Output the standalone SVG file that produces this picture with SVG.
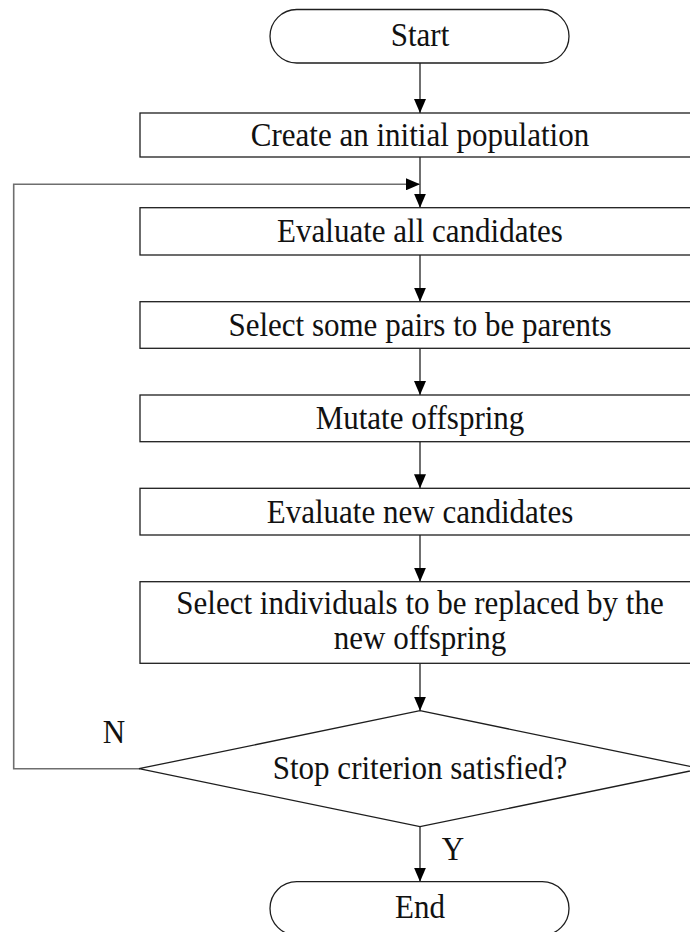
<svg xmlns="http://www.w3.org/2000/svg" width="690" height="932" viewBox="0 0 690 932">
<style>
.box{fill:#fff;stroke:#1e1e1e;stroke-width:1.3}
.t{font-family:"Liberation Serif","Times New Roman",serif;font-size:33px;fill:#111;text-anchor:middle}
.c{fill:none;stroke:#222;stroke-width:1.3}
.loop{fill:none;stroke:#6e6e6e;stroke-width:1.6}
</style>
<defs>
<marker id="ah" markerUnits="userSpaceOnUse" markerWidth="14" markerHeight="12" refX="14" refY="6" orient="auto">
<path d="M0,0 L14,6 L0,12 z" fill="#000"/>
</marker>
</defs>
<rect width="690" height="932" fill="#fff"/>
<g id="connectors">
<line class="c" x1="420" y1="63" x2="420" y2="113" marker-end="url(#ah)"/>
<line class="c" x1="420" y1="157" x2="420" y2="207.7" marker-end="url(#ah)"/>
<line class="c" x1="420" y1="255" x2="420" y2="301.7" marker-end="url(#ah)"/>
<line class="c" x1="420" y1="348.3" x2="420" y2="395" marker-end="url(#ah)"/>
<line class="c" x1="420" y1="441.7" x2="420" y2="488.3" marker-end="url(#ah)"/>
<line class="c" x1="420" y1="535" x2="420" y2="581.7" marker-end="url(#ah)"/>
<line class="c" x1="420" y1="663.3" x2="420" y2="710.7" marker-end="url(#ah)"/>
<line class="c" x1="420" y1="826.7" x2="420" y2="881.7" marker-end="url(#ah)"/>
<path class="loop" d="M140,768.7 H13.7 V184.3 H420" marker-end="url(#ah)"/>
<text class="t" transform="translate(114,743) scale(0.94,1)">N</text>
<text class="t" transform="translate(453,860) scale(0.94,1)">Y</text>
</g>
<g id="start">
<rect class="box" x="270" y="9.5" width="299" height="53.5" rx="26.75" ry="26.75"/>
<text class="t" transform="translate(420,46) scale(0.94,1)">Start</text>
</g>
<g id="create">
<rect class="box" x="140" y="113" width="562" height="44"/>
<text class="t" transform="translate(420,145.5) scale(0.94,1)">Create an initial population</text>
</g>
<g id="evaluate-all">
<rect class="box" x="140" y="207.7" width="562" height="47.3"/>
<text class="t" transform="translate(420,242) scale(0.94,1)">Evaluate all candidates</text>
</g>
<g id="select-pairs">
<rect class="box" x="140" y="301.7" width="562" height="46.6"/>
<text class="t" transform="translate(420,336) scale(0.94,1)">Select some pairs to be parents</text>
</g>
<g id="mutate">
<rect class="box" x="140" y="395" width="562" height="46.7"/>
<text class="t" transform="translate(420,429) scale(0.94,1)">Mutate offspring</text>
</g>
<g id="evaluate-new">
<rect class="box" x="140" y="488.3" width="562" height="46.7"/>
<text class="t" transform="translate(420,522.5) scale(0.94,1)">Evaluate new candidates</text>
</g>
<g id="select-individuals">
<rect class="box" x="140" y="581.7" width="562" height="81.6"/>
<text class="t" transform="translate(420,614) scale(0.94,1)">Select individuals to be replaced by the</text>
<text class="t" transform="translate(420,649) scale(0.94,1)">new offspring</text>
</g>
<g id="decision">
<polygon class="box" points="420,710.7 701,768.7 420,826.7 139,768.7"/>
<text class="t" transform="translate(420,779) scale(0.94,1)">Stop criterion satisfied?</text>
</g>
<g id="end">
<rect class="box" x="270" y="881.7" width="299" height="53.5" rx="26.75" ry="26.75"/>
<text class="t" transform="translate(420,918) scale(0.94,1)">End</text>
</g>
</svg>
